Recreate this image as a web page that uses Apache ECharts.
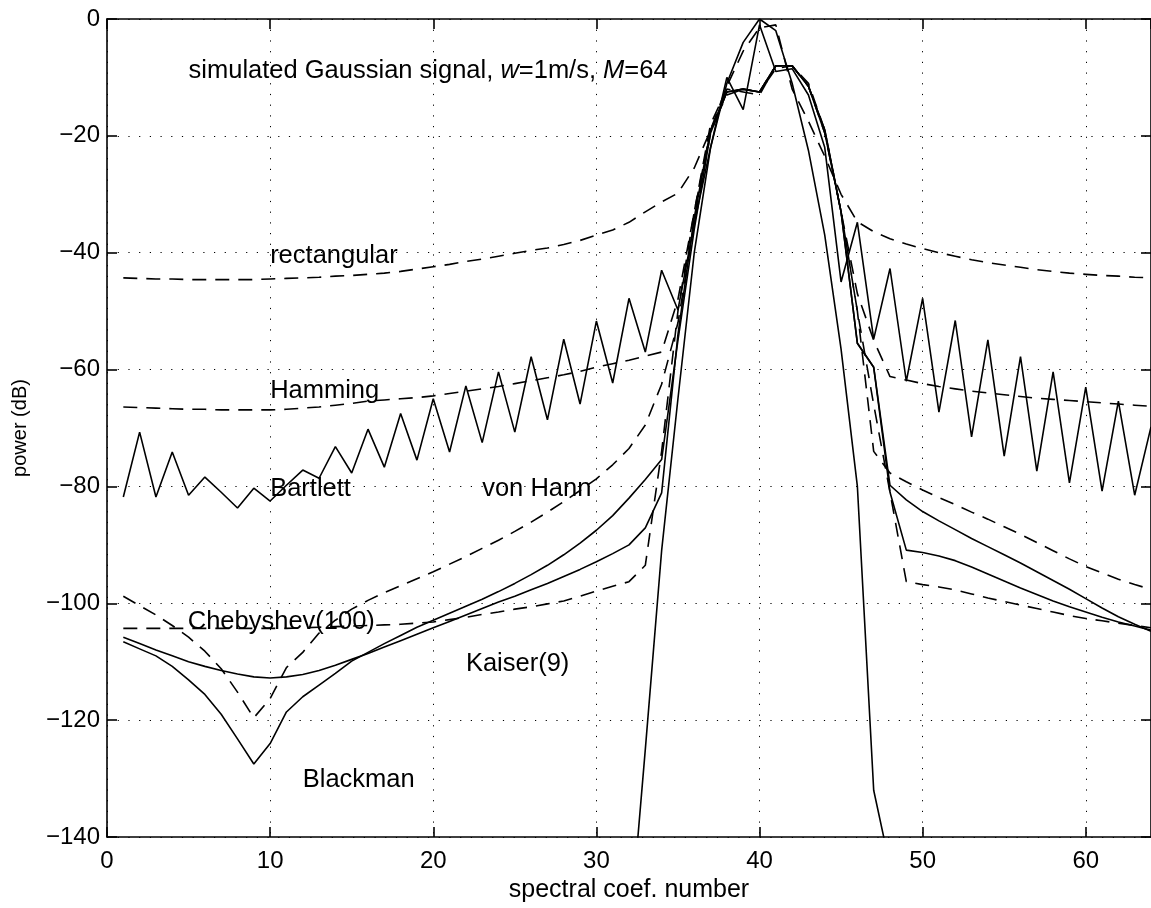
<!DOCTYPE html>
<html><head><meta charset="utf-8">
<script src="https://cdn.jsdelivr.net/npm/echarts@6/dist/echarts.min.js"></script>
<style>html,body{margin:0;padding:0;background:#fff}#c{width:1151px;height:908px}</style>
</head><body><div id="c"></div>
<script>
// spectral coefficient values (x = 1..64), power in dB
const rectangular = [-44.3,-44.4,-44.5,-44.5,-44.6,-44.6,-44.6,-44.6,-44.6,-44.5,
 -44.4,-44.3,-44.2,-44.0,-43.9,-43.7,-43.5,-43.2,-42.8,-42.4,
 -42.0,-41.5,-41.1,-40.6,-40.1,-39.6,-39.2,-38.6,-37.9,-37.0,
 -36.1,-34.8,-33.0,-31.3,-29.8,-25.5,-19.0,-11.5,-5.5,-1.5,
 -1.0,-12.0,-17.5,-23.5,-30.0,-34.7,-36.4,-37.6,-38.5,-39.3,
 -40.0,-40.6,-41.2,-41.7,-42.1,-42.5,-42.9,-43.2,-43.5,-43.7,
 -43.9,-44.0,-44.2,-44.3];
const hamming = [-66.4,-66.5,-66.6,-66.7,-66.8,-66.8,-66.9,-66.9,-66.9,-66.9,
 -66.8,-66.6,-66.4,-66.1,-65.8,-65.4,-65.2,-65.0,-64.8,-64.5,
 -64.1,-63.7,-63.3,-62.9,-62.4,-61.9,-61.4,-60.9,-60.3,-59.6,
 -59.0,-58.4,-57.7,-57.0,-48.0,-33.0,-18.0,-12.0,-12.5,-13.0,
 -8.0,-8.0,-11.5,-19.0,-33.0,-47.0,-55.0,-61.2,-61.8,-62.4,
 -62.9,-63.3,-63.7,-64.0,-64.3,-64.6,-64.9,-65.1,-65.3,-65.5,
 -65.7,-65.9,-66.1,-66.3];
const bartlett = [-81.8,-70.7,-81.8,-74.1,-81.5,-78.4,-81.0,-83.7,-80.3,-82.5,
 -79.8,-77.2,-78.6,-73.2,-77.7,-70.2,-76.7,-67.5,-75.5,-65.0,
 -74.1,-62.8,-72.5,-60.4,-70.7,-57.8,-68.6,-54.8,-65.9,-51.7,
 -62.3,-47.8,-57.0,-43.0,-49.8,-35.0,-22.0,-10.0,-15.5,-1.0,
 -9.0,-8.5,-13.0,-22.0,-45.0,-34.8,-54.8,-42.7,-62.0,-47.8,
 -67.3,-51.6,-71.5,-54.9,-74.8,-57.8,-77.4,-60.4,-79.4,-63.0,
 -80.8,-65.4,-81.5,-69.8];
const vonHann = [-98.8,-100.4,-102.0,-103.8,-105.8,-108.2,-111.2,-115.2,-119.6,-116.3,
 -111.0,-108.4,-105.1,-102.9,-101.0,-99.5,-98.2,-97.0,-95.8,-94.6,
 -93.3,-92.0,-90.6,-89.2,-87.7,-86.1,-84.4,-82.6,-80.7,-78.7,
 -76.3,-73.5,-69.5,-62.5,-52.0,-35.0,-19.5,-12.5,-12.0,-12.5,
 -8.0,-8.0,-11.5,-19.5,-33.0,-50.0,-74.0,-77.7,-79.2,-80.6,
 -81.9,-83.1,-84.4,-85.6,-86.9,-88.2,-89.6,-91.0,-92.4,-93.7,
 -94.8,-95.9,-96.8,-97.6];
const chebyshev = [-104.3,-104.3,-104.3,-104.3,-104.3,-104.3,-104.3,-104.3,-104.3,-104.3,
 -104.3,-104.2,-104.1,-104.0,-103.9,-103.8,-103.7,-103.6,-103.4,-103.2,
 -102.8,-102.4,-101.9,-101.5,-101.0,-100.6,-100.1,-99.6,-98.8,-97.9,
 -97.1,-96.3,-93.5,-74.0,-50.0,-33.0,-19.0,-13.0,-12.0,-12.5,
 -8.5,-8.0,-11.0,-19.0,-33.0,-50.0,-66.0,-81.0,-96.3,-96.8,
 -97.2,-97.7,-98.4,-99.1,-99.7,-100.3,-100.9,-101.5,-102.1,-102.6,
 -103.0,-103.4,-103.8,-104.2];
const kaiser = [-105.8,-106.9,-108.0,-109.0,-110.0,-110.8,-111.5,-112.1,-112.6,-112.8,
 -112.6,-112.2,-111.5,-110.6,-109.6,-108.6,-107.5,-106.4,-105.3,-104.2,
 -103.1,-102.0,-100.9,-99.8,-98.8,-97.7,-96.6,-95.4,-94.2,-92.9,
 -91.5,-90.0,-87.1,-81.1,-54.0,-34.0,-19.0,-12.5,-12.0,-12.5,
 -8.0,-8.0,-11.5,-19.0,-33.0,-55.5,-59.6,-81.0,-90.9,-91.3,
 -91.9,-92.7,-93.8,-95.0,-96.2,-97.4,-98.5,-99.6,-100.6,-101.5,
 -102.4,-103.2,-103.9,-104.6];
const blackman = [-106.6,-107.8,-109.0,-110.8,-113.1,-115.6,-119.0,-123.2,-127.5,-124.0,
 -118.6,-116.0,-114.0,-112.0,-109.9,-108.4,-106.9,-105.5,-104.1,-102.9,
 -101.7,-100.5,-99.3,-98.0,-96.6,-95.1,-93.5,-91.7,-89.7,-87.5,
 -85.0,-82.0,-78.8,-75.4,-55.0,-36.0,-19.5,-12.5,-12.0,-12.5,
 -8.0,-8.0,-11.5,-19.5,-33.0,-55.5,-59.6,-79.8,-82.3,-84.3,
 -85.9,-87.4,-88.9,-90.3,-91.7,-93.1,-94.6,-96.1,-97.6,-99.2,
 -100.8,-102.3,-103.6,-104.8];
// narrow curve (no window label)
const narrowX = [32,33,34,35,36,37,38,39,40,41,42,43,44,45,46,47,48];
const narrowY = [-158,-125,-91,-65,-40,-22,-11,-4,0,-2,-11,-22.5,-37,-56.5,-80,-132,-145];

const yTicks = [-140,-120,-100,-80,-60,-40,-20,0];
const xTicks = [0,10,20,30,40,50,60];

const labelText = ['rectangular','Hamming','Bartlett','von Hann','Chebyshev(100)','Kaiser(9)','Blackman'];
const labelX = [10, 10, 10, 23, 4.95, 22, 12];
const labelY = [-40.5, -63.6, -80.5, -80.5, -103.2, -110.4, -130.2];
const titleX = 5, titleY = -8.9;

const FONT = "'Liberation Sans', Arial, Helvetica, sans-serif";
const pts = arr => arr.map((v, i) => [i + 1, v]);
const DASH = [14, 9];
const LW = 1.6;

function mk(name, arr, dashed) {
  return { name, type: 'line', data: pts(arr), showSymbol: false, symbol: 'none',
    lineStyle: { color: '#000', width: LW, type: dashed ? DASH : 'solid' }, z: 3, silent: true };
}

const chart = echarts.init(document.getElementById('c'), null, { renderer: 'canvas' });
const tickFmt = v => (v < 0 ? '\u2212' + Math.abs(v) : String(v));
const gridDots = { show: true, lineStyle: { color: '#000', width: 1, type: [1.2, 9.5] } };
const frame = { color: '#000', width: 1.6 };
const option = {
  animation: false,
  backgroundColor: '#fff',
  grid: { left: 107, right: -3, top: 19, bottom: 71, containLabel: false },
  xAxis: [
    { type: 'value', min: 0, max: 64, interval: 10, position: 'bottom',
      axisLine: { show: true, onZero: false, lineStyle: frame },
      axisTick: { show: true, inside: true, length: 10, lineStyle: frame },
      axisLabel: { show: true, margin: 12, color: '#000', fontSize: 24, fontFamily: FONT, showMaxLabel: false },
      splitLine: gridDots,
      name: 'spectral coef. number', nameLocation: 'middle', nameGap: 37,
      nameTextStyle: { color: '#000', fontSize: 25, fontFamily: FONT } },
    { type: 'value', min: 0, max: 64, interval: 10, position: 'top',
      axisLine: { show: true, onZero: false, lineStyle: frame },
      axisTick: { show: true, inside: true, length: 10, lineStyle: frame },
      axisLabel: { show: false }, splitLine: { show: false } }
  ],
  yAxis: [
    { type: 'value', min: -140, max: 0, interval: 20, position: 'left',
      axisLine: { show: true, onZero: false, lineStyle: frame },
      axisTick: { show: true, inside: true, length: 10, lineStyle: frame },
      axisLabel: { show: true, margin: 7, color: '#000', fontSize: 24, fontFamily: FONT, formatter: tickFmt },
      splitLine: gridDots,
      name: 'power (dB)', nameLocation: 'middle', nameGap: 77, nameRotate: 90,
      nameTextStyle: { color: '#000', fontSize: 20, fontFamily: FONT } },
    { type: 'value', min: -140, max: 0, interval: 20, position: 'right',
      axisLine: { show: true, onZero: false, lineStyle: frame },
      axisTick: { show: true, inside: true, length: 10, lineStyle: frame },
      axisLabel: { show: false }, splitLine: { show: false } }
  ],
  series: [
    mk('rectangular', rectangular, true),
    mk('Hamming', hamming, true),
    mk('Bartlett', bartlett, false),
    mk('von Hann', vonHann, true),
    mk('Chebyshev(100)', chebyshev, true),
    mk('Kaiser(9)', kaiser, false),
    mk('Blackman', blackman, false),
    { name: 'narrow', type: 'line', data: narrowX.map((x, i) => [x, narrowY[i]]), showSymbol: false, symbol: 'none',
      lineStyle: { color: '#000', width: LW }, z: 3, silent: true }
  ]
};
chart.setOption(option);

const AF = 25.5;
const graphics = labelText.map((t, i) => {
  const p = chart.convertToPixel({ gridIndex: 0 }, [labelX[i], labelY[i]]);
  return { type: 'text', x: p[0], y: p[1], z: 10,
    style: { text: t, fill: '#000', font: AF + 'px ' + FONT, textAlign: 'left', textVerticalAlign: 'middle' } };
});
const tp = chart.convertToPixel({ gridIndex: 0 }, [titleX, titleY]);
graphics.push({ type: 'text', x: tp[0], y: tp[1], z: 10,
  style: { text: '{n|simulated Gaussian signal, }{i|w}{n|=1m/s, }{i|M}{n|=64}',
    textAlign: 'left', textVerticalAlign: 'middle', fill: '#000',
    rich: { n: { fontSize: AF, fontFamily: FONT, color: '#000' },
            i: { fontSize: AF, fontFamily: FONT, fontStyle: 'italic', color: '#000' } } } });
chart.setOption({ graphic: graphics });
</script></body></html>
